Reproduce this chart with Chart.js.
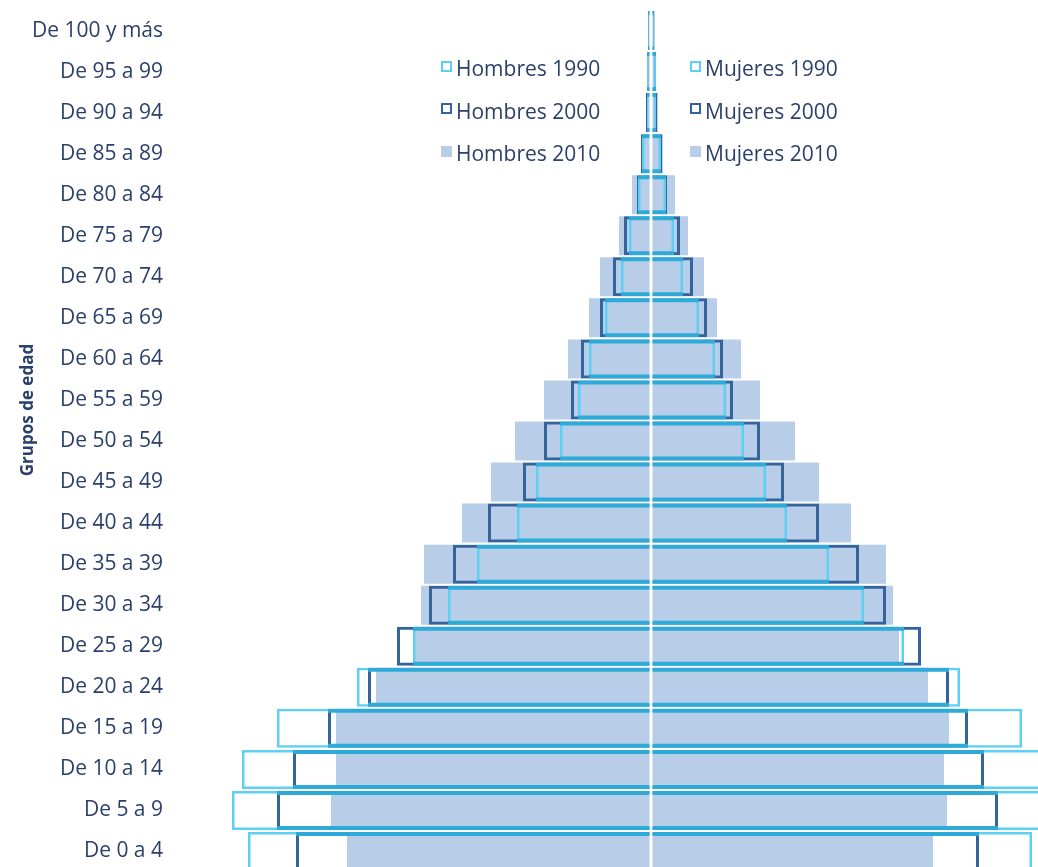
<!DOCTYPE html>
<html lang="es">
<head>
<meta charset="utf-8">
<title>Pirámide de población</title>
<script src="https://cdn.jsdelivr.net/npm/chart.js@4.4.1/dist/chart.umd.min.js"></script>
<style>
  html, body { margin: 0; padding: 0; overflow: hidden; background: #fff; }
  #wrap { position: relative; width: 1038px; height: 872px; }
  #legend {
    position: absolute; left: 441px; top: 47px;
    display: grid; grid-auto-flow: column;
    grid-template-columns: 249px auto; grid-template-rows: repeat(3, 42.5px);
    font-family: "Open Sans", sans-serif; font-size: 21px; color: #2b3f6b;
  }
  .item { display: flex; align-items: center; white-space: nowrap; }
  .box { width: 11px; height: 11px; box-sizing: border-box; margin-right: 4px; transform: translateY(-2px); }
</style>
</head>
<body>
<div id="wrap">
  <canvas id="pyramid"></canvas>
  <div id="legend"></div>
</div>
<script>
// Grupos de edad, de mayor a menor (miles de personas)
const ageGroups = ['De 100 y más', 'De 95 a 99', 'De 90 a 94', 'De 85 a 89', 'De 80 a 84',
  'De 75 a 79', 'De 70 a 74', 'De 65 a 69', 'De 60 a 64', 'De 55 a 59', 'De 50 a 54',
  'De 45 a 49', 'De 40 a 44', 'De 35 a 39', 'De 30 a 34', 'De 25 a 29', 'De 20 a 24',
  'De 15 a 19', 'De 10 a 14', 'De 5 a 9', 'De 0 a 4'];

const men1990 = [3, 4, 4, 9, 13, 22, 30, 46, 62, 73, 91, 115, 134, 174, 203, 238, 294, 374, 409, 419, 403];
const men2000 = [3, 4, 5, 10, 14, 27, 38, 51, 70, 80, 107, 128, 163, 198, 222, 254, 283, 323, 358, 374, 355];
const men2010 = [3, 4, 5, 10, 19, 32, 51, 62, 83, 107, 136, 160, 189, 227, 230, 237, 275, 315, 315, 320, 304];
const women1990 = [3, 5, 5, 10, 15, 23, 32, 48, 64, 75, 93, 115, 136, 178, 213, 253, 309, 371, 400, 410, 381];
const women2000 = [3, 5, 6, 11, 16, 29, 42, 56, 72, 82, 109, 133, 168, 208, 235, 270, 298, 317, 333, 347, 328];
const women2010 = [4, 5, 7, 12, 24, 37, 53, 66, 90, 109, 144, 168, 200, 235, 242, 248, 277, 298, 293, 296, 282];

const navy = '#2b3f6b';
const c1990 = '#5dd0f4';
const c2000 = '#35649c';
const c2010 = '#b8cde8';
const cShared = '#2eaad9';

const neg = arr => arr.map(v => -v);
// tramo común entre 1990 y 2000: su borde superior e inferior se ve más intenso
const shared = (a, b) => a.map((v, i) => Math.min(v, b[i]));

function outline(label, data, color, width) {
  return {
    label, data, backgroundColor: 'rgba(0,0,0,0)', borderColor: color,
    borderWidth: width, borderSkipped: 'start'
  };
}
function filled(label, data) {
  return { label, data, backgroundColor: c2010, borderWidth: 0 };
}
function edges(data) {
  return {
    label: '', data, backgroundColor: 'rgba(0,0,0,0)', borderColor: cShared,
    borderWidth: { top: 4, bottom: 4, left: 0, right: 0 }, borderSkipped: false
  };
}

// el primer dataset se pinta encima
const datasets = [
  edges(neg(shared(men1990, men2000))),
  edges(shared(women1990, women2000)),
  outline('Hombres 1990', neg(men1990), c1990, 2.5),
  outline('Mujeres 1990', women1990, c1990, 2.5),
  outline('Hombres 2000', neg(men2000), c2000, 3),
  outline('Mujeres 2000', women2000, c2000, 3),
  filled('Hombres 2010', neg(men2010)),
  filled('Mujeres 2010', women2010)
];

const axisTitle = {
  id: 'axisTitle',
  afterDraw(chart) {
    const ctx = chart.ctx;
    ctx.save();
    ctx.translate(28, 410);
    ctx.rotate(-Math.PI / 2);
    ctx.font = 'bold 17px "Open Sans", sans-serif';
    ctx.fillStyle = navy;
    ctx.textAlign = 'center';
    ctx.textBaseline = 'middle';
    ctx.fillText('Grupos de edad', 0, 0);
    ctx.restore();
  }
};

const chart = new Chart(document.getElementById('pyramid'), {
  type: 'bar',
  data: { labels: ageGroups, datasets },
  options: {
    indexAxis: 'y',
    responsive: true,
    maintainAspectRatio: false,
    animation: false,
    grouped: false,
    categoryPercentage: 1,
    barPercentage: 0.95,
    layout: { padding: { top: 10, left: 0, right: 0, bottom: 0 } },
    plugins: { legend: { display: false }, tooltip: { enabled: false } },
    scales: {
      x: {
        min: -476, max: 387, z: 1,
        ticks: { display: false, stepSize: 100 },
        border: { display: false },
        grid: {
          drawTicks: false, lineWidth: 3,
          color: ctx => ctx.tick && ctx.tick.value === 0 ? '#ffffff' : 'rgba(0,0,0,0)'
        },
        afterFit: s => { s.height = 0; s.paddingLeft = 0; s.paddingRight = 0; }
      },
      y: {
        grid: { display: false, drawTicks: false },
        border: { display: false },
        ticks: { color: navy, padding: 12, font: { family: 'Open Sans', size: 21 } },
        afterFit: s => { s.width = 175; s.paddingTop = 0; s.paddingBottom = 0; }
      }
    }
  },
  plugins: [axisTitle]
});

// leyenda en dos columnas: hombres a la izquierda, mujeres a la derecha
const legendEl = document.getElementById('legend');
const order = ['Hombres 1990', 'Hombres 2000', 'Hombres 2010', 'Mujeres 1990', 'Mujeres 2000', 'Mujeres 2010'];
order.forEach(name => {
  const ds = chart.data.datasets.find(d => d.label === name);
  const item = document.createElement('div');
  item.className = 'item';
  const box = document.createElement('span');
  box.className = 'box';
  if (ds.borderWidth) {
    box.style.border = '2.5px solid ' + ds.borderColor;
  } else {
    box.style.background = ds.backgroundColor;
  }
  item.appendChild(box);
  item.appendChild(document.createTextNode(name));
  legendEl.appendChild(item);
});
</script>
</body>
</html>
